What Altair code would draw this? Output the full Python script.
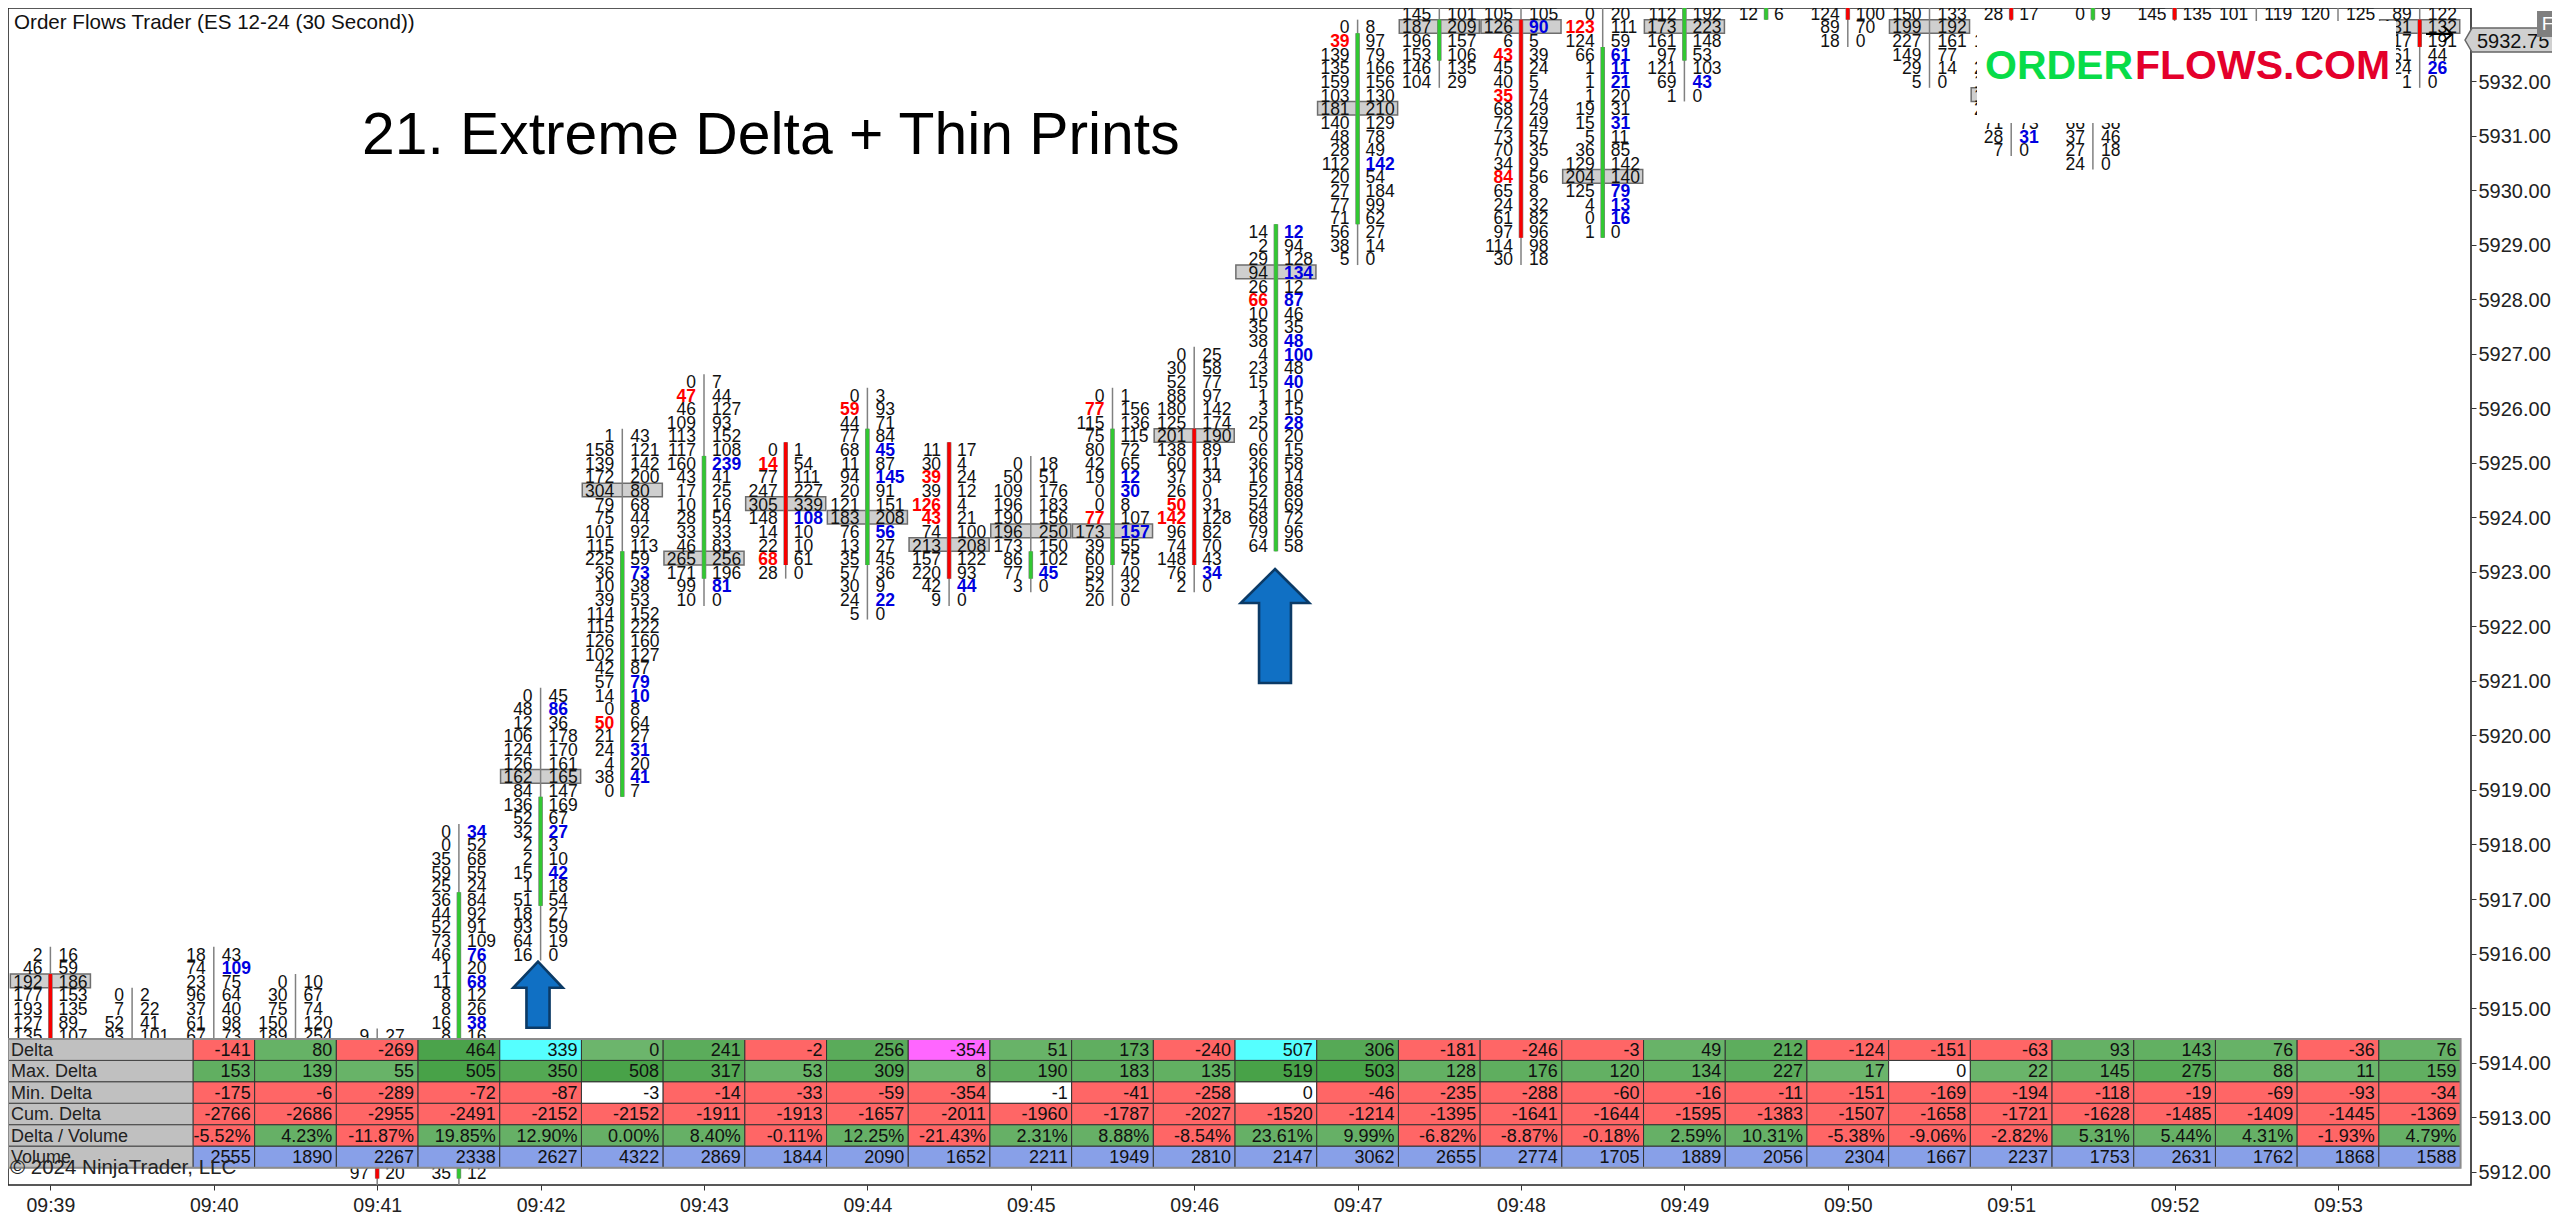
import altair as alt
import pandas as pd

# ---------- chart values ----------
TIME_LABELS = ["09:39","09:40","09:41","09:42","09:43","09:44","09:45","09:46","09:47","09:48","09:49","09:50","09:51","09:52","09:53"]
PRICE_TICKS = list(range(5912, 5933))

BAR_TOP = [5916.0,5915.25,5916.0,5915.5,5914.5,5918.25,5920.75,5925.5,5926.5,5925.25,5926.25,5925.25,5925.0,5926.25,5927.0,5929.25,5933.0,
           5933.25,5933.25,5933.25,5933.25,5933.25,5933.25,5933.25,5933.25,5933.25,5933.25,5933.25,5933.25,5933.25]

B = [""]
BIDS = [
 ["2","46","192","177","193","127","135"],
 ["0","7","52","93"],
 ["18","74","23","96","37","61","67"],
 ["0","30","75","150","189"],
 ["9"]+B*9+["97",""],
 ["0","0","35","59","25","36","44","52","73","46","1","11","8","8","16","8"]+B*9+["35",""],
 ["0","48","12","106","124","126","162","84","136","52","32","2","2","15","1","51","18","93","64","16"],
 ["1","158","139","172","304","79","75","101","115","225","36","10","39","114","115","126","102","42","57","14","0","50*","21","24","4","38","0"],
 ["0","47*","46","109","113","117","160","43","17","10","28","33","46","265","171","99","10"],
 ["0","14*","77","247","305","148","14","22","68*","28"],
 ["0","59*","44","77","68","11","94","20","121","183","76","13","35","57","30","24","5"],
 ["11","30","39*","39","126*","43*","74","213","157","220","42","9"],
 ["0","50","109","196","190","196","173","86","77","3"],
 ["0","77*","115","75","80","42","19","0","0","77*","173","39","60","59","52","20"],
 ["0","30","52","88","180","125","201","138","60","37","26","50*","142*","96","74","148","76","2"],
 ["14","2","29","94","26","66*","10","35","38","4","23","15","1","3","25","0","66","36","16","52","54","68","79","64"],
 ["0","39*","139","135","159","103","181","140","48","28","112","20","27","77","71","56","38","5"],
 ["145","187","196","153","146","104"],
 ["105","126","6","43*","45","40","35*","68","72","73","70","34","84*","65","24","61","97","114","30"],
 ["0","123*","124","66","1","1","1","19","15","5","36","129","204","125","4","0","1"],
 ["112","173","161","97","121","69","1"],
 ["12"],
 ["124","89","18"],
 ["150","199","227","149","29","5"],
 ["28","","150","","210","120","150","210","71","28","7"],
 ["0"]+B*7+["66","37","27","24"],
 ["145",""],
 ["101",""],
 ["120",""],
 ["89","131","117","161","124","1"],
]
ASKS = [
 ["16","59","186","153","135","89","107"],
 ["2","22","41","101"],
 ["43","109*","75","64","40","98","73"],
 ["10","67","74","120","254"],
 ["27"]+B*9+["20",""],
 ["34*","52","68","55","24","84","92","91","109","76*","20","68*","12","26","38*","16"]+B*9+["12",""],
 ["45","86*","36","178","170","161","165","147","169","67","27*","3","10","42*","18","54","27","59","19","0"],
 ["43","121","142","200","80","68","44","92","113","59","73*","38","53","152","222","160","127","87","79*","10*","8","64","27","31*","20","41*","7"],
 ["7","44","127","93","152","108","239*","41","25","16","54","33","83","256","196","81*","0"],
 ["1","54","111","227","339","108*","10","10","61","0"],
 ["3","93","71","84","45*","87","145*","91","151","208","56*","27","45","36","9","22*","0"],
 ["17","4","24","12","4","21","100","208","122","93","44*","0"],
 ["18","51","176","183","156","250","150","102","45*","0"],
 ["1","156","136","115","72","65","12*","30*","8","107","157*","55","75","40","32","0"],
 ["25","58","77","97","142","174","190","89","11","34","0","31","128","82","70","43","34*","0"],
 ["12*","94","128","134*","12","87*","46","35","48*","100*","48","40*","10","15","28*","20","15","58","14","88","69","72","96","58"],
 ["8","97","79","166","156","130","210","129","78","49","142*","54","184","99","62","27","14","0"],
 ["101","209","157","106","135","29"],
 ["105","90*","5","39","24","5","74","29","49","57","35","9","56","8","32","82","96","98","18"],
 ["20","111","59","61*","11*","21*","20","31","31*","11","85","142","140","79*","13*","16*","0"],
 ["192","223","148","53","103","43*","0"],
 ["6"],
 ["100","70","0"],
 ["133","192","161","77","14","0"],
 ["17"]+B*7+["73","31*","0"],
 ["9"]+B*7+["38","46","18","0"],
 ["135",""],
 ["119",""],
 ["125",""],
 ["122","132","191","44","26*","0"],
]
POC_ROW = [2,None,None,None,None,None,6,4,13,4,9,7,5,10,6,3,6,1,1,12,1,None,None,1,6,None,None,None,None,1]
BODY_FIRST = [2,None,None,None,9,5,8,9,6,0,3,0,7,3,6,0,1,1,1,3,0,0,0,None,0,0,0,None,None,1]
BODY_LAST  = [6,None,None,None,10,25,15,26,14,8,12,9,8,12,15,23,14,3,16,16,3,0,0,None,0,0,0,None,None,2]
BODY_UP    = [0,None,None,None,0,1,1,1,1,0,1,0,1,1,0,1,1,1,0,1,1,1,0,None,0,1,0,None,None,0]

ROW_NAMES = ["Delta","Max. Delta","Min. Delta","Cum. Delta","Delta / Volume","Volume"]
DELTA = [-141,80,-269,464,339,0,241,-2,256,-354,51,173,-240,507,306,-181,-246,-3,49,212,-124,-151,-63,93,143,76,-36,76]
MAX_DELTA = [153,139,55,505,350,508,317,53,309,8,190,183,135,519,503,128,176,120,134,227,17,0,22,145,275,88,11,159]
MIN_DELTA = [-175,-6,-289,-72,-87,-3,-14,-33,-59,-354,-1,-41,-258,0,-46,-235,-288,-60,-16,-11,-151,-169,-194,-118,-19,-69,-93,-34]
CUM_DELTA = [-2766,-2686,-2955,-2491,-2152,-2152,-1911,-1913,-1657,-2011,-1960,-1787,-2027,-1520,-1214,-1395,-1641,-1644,-1595,-1383,-1507,-1658,-1721,-1628,-1485,-1409,-1445,-1369]
DELTA_VOL = [-5.52,4.23,-11.87,19.85,12.90,0.00,8.40,-0.11,12.25,-21.43,2.31,8.88,-8.54,23.61,9.99,-6.82,-8.87,-0.18,2.59,10.31,-5.38,-9.06,-2.82,5.31,5.44,4.31,-1.93,4.79]
VOLUME = [2555,1890,2267,2338,2627,4322,2869,1844,2090,1652,2211,1949,2810,2147,3062,2655,2774,1705,1889,2056,2304,1667,2237,1753,2631,1762,1868,1588]
DELTA_HIGHLIGHT = {4:"#55ffff",9:"#ff66ff",13:"#55ffff"}

# ---------- page geometry of the plot ----------
FONT = "Liberation Sans"
PLOT_L, PLOT_T, PLOT_R, PLOT_B = 8, 8, 2471, 1185
BAR0, BAR_W = 50.4, 81.7
PT_Y, PT_PX = 81.0, 54.535          # page y of 5932, px per point
TICK = 0.25
def ix(px): return (px-BAR0)/BAR_W
def pr(py): return 5932-(py-PT_Y)/PT_PX

xs = alt.Scale(domain=[ix(PLOT_L), ix(PLOT_R)], nice=False, zero=False)
ys = alt.Scale(domain=[pr(PLOT_B), pr(PLOT_T)], nice=False, zero=False)
AX = alt.Axis(values=list(range(0,29,2)),
        labelExpr=str(TIME_LABELS)+"[datum.value/2]",labelFont=FONT,labelFontSize=19.5,labelColor="#222222",
        tickColor="#333333",tickSize=5,domain=False,grid=False,labelPadding=6,labelFlush=False,labelOverlap=False,title=None)
AY = alt.Axis(orient="right",values=PRICE_TICKS,format=".2f",labelFont=FONT,
        labelFontSize=20,labelColor="#222222",tickColor="#333333",tickSize=5,domain=False,grid=False,labelPadding=2,
        labelOffset=1,labelOverlap=False,labelFlush=False,title=None)
def X(f="x"): return alt.X(f, type="quantitative", scale=xs, axis=AX)
def Y(f="y"): return alt.Y(f, type="quantitative", scale=ys, axis=AY)

# ---------- footprint tables ----------
texts, pocs, wicks, bodies = [], [], [], []
for i,(top,bids,asks) in enumerate(zip(BAR_TOP,BIDS,ASKS)):
    n = len(bids)
    wicks.append(dict(x=i,y=top+TICK/2,y2=top-(n-1)*TICK-TICK/2))
    for r,(b,a) in enumerate(zip(bids,asks)):
        p = top-r*TICK
        if b: texts.append(dict(x=i,y=p,t=b.rstrip("*"),side="bid",bold=b.endswith("*")))
        if a: texts.append(dict(x=i,y=p,t=a.rstrip("*"),side="ask",bold=a.endswith("*")))
    if POC_ROW[i] is not None:
        p = top-POC_ROW[i]*TICK
        pocs.append(dict(x=i-.49,x2=i+.49,y=p+TICK/2,y2=p-TICK/2))
    if BODY_FIRST[i] is not None:
        bodies.append(dict(x=i,y=top-BODY_FIRST[i]*TICK+TICK/2,y2=top-BODY_LAST[i]*TICK-TICK/2,
                           c="#32c832" if BODY_UP[i] else "#f80000"))
tx = pd.DataFrame(texts)

def num_layer(side,bold,color):
    d = tx[(tx.side==side)&(tx.bold==bold)]
    return alt.Chart(d).mark_text(font=FONT,fontSize=17.5,fontWeight="bold" if bold else "normal",color=color,clip=True,
        align="right" if side=="bid" else "left",baseline="middle",dx=-8 if side=="bid" else 8,dy=2
    ).encode(x=X(),y=Y(),text="t:N")

poc_l = alt.Chart(pd.DataFrame(pocs)).mark_rect(fill="#cfcfcf",stroke="#6e6e6e",strokeWidth=1.5,clip=True).encode(x=X(),x2="x2",y=Y(),y2="y2")
wick_l = alt.Chart(pd.DataFrame(wicks)).mark_rule(color="#808080",strokeWidth=1.5,clip=True).encode(x=X(),y=Y(),y2="y2")
bd = pd.DataFrame(bodies)
body_edge = alt.Chart(bd).mark_rule(color="#808080",strokeWidth=4.6,clip=True).encode(x=X(),y=Y(),y2="y2")
body_l = alt.Chart(bd).mark_rule(strokeWidth=3.4,clip=True).encode(x=X(),y=Y(),y2="y2",color=alt.Color("c:N",scale=None,legend=None))

# ---------- arrows ----------
def up_arrow(xpx,ypy,h,wing,half,shaft):
    path = f"M0,-1L{half},{wing}L{shaft},{wing}L{shaft},1L{-shaft},1L{-shaft},{wing}L{-half},{wing}Z"
    return alt.Chart(pd.DataFrame(dict(x=[ix(xpx)],y=[pr(ypy)]))).mark_point(shape=path,size=h*h,filled=True,
        fill="#1070c4",stroke="#0b3a66",strokeWidth=2.6,opacity=1,fillOpacity=1).encode(x=X(),y=Y())
arrow_small = up_arrow(538,994.7,66,-0.21,0.75,0.35)
arrow_big = up_arrow(1275,626,114,-0.404,0.6,0.28)

# ---------- table ----------
TAB_T, ROW_H = 1039, 21.45
cells, labels = [], []
def green(v):
    t = min(1,abs(v)/500)
    return "#%02x%02x%02x"%(round(108-36*t),round(181-19*t),round(108-36*t))
RED, BLUE = "#ff6666", "#88a0e8"
for rname,row in zip(ROW_NAMES,range(6)):
    arr = [DELTA,MAX_DELTA,MIN_DELTA,CUM_DELTA,DELTA_VOL,VOLUME][row]
    t0,t1 = pr(TAB_T+row*ROW_H),pr(TAB_T+(row+1)*ROW_H)
    ymid = (t0+t1)/2
    labels.append(dict(x=ix(PLOT_L),x2=1.745,y=t0,y2=t1,ym=ymid,t=rname))
    for k,v in enumerate(arr):
        if row==5: c=BLUE
        elif row==4: c = RED if v<0 else "#66b066"
        elif row==3: c = RED if v<0 else green(v)
        elif row==0 and k in DELTA_HIGHLIGHT: c=DELTA_HIGHLIGHT[k]
        elif row in (1,2) and v>-4 and v<=0: c="#ffffff"
        else: c = RED if v<0 else green(v)
        txt = f"{v:.2f}%" if row==4 else str(v)
        cells.append(dict(x=max(k+1.5,1.745),x2=k+2.5,y=t0,y2=t1,ym=ymid,c=c,t=txt))
cell_df = pd.DataFrame(cells); lab_df = pd.DataFrame(labels)
lab_rect = alt.Chart(lab_df).mark_rect(fill="#c0c0c0",stroke="#444444",strokeWidth=1).encode(x=X(),x2="x2",y=Y(),y2="y2")
cell_rect = alt.Chart(cell_df).mark_rect(stroke="#333333",strokeWidth=1).encode(x=X(),x2="x2",y=Y(),y2="y2",color=alt.Color("c:N",scale=None,legend=None))
cell_text = alt.Chart(cell_df).mark_text(font=FONT,fontSize=18,color="#111111",align="right",baseline="middle",dx=-4,dy=1).encode(x=X("x2"),y=Y("ym"),text="t:N")
lab_text = alt.Chart(lab_df).mark_text(font=FONT,fontSize=18,color="#222222",align="left",baseline="middle",dx=3,dy=1).encode(x=X(),y=Y("ym"),text="t:N")
frame_df = pd.DataFrame(dict(x=[ix(PLOT_L)],x2=[29.5],y=[pr(TAB_T)],y2=[pr(TAB_T+6*ROW_H)]))
tab_frame = alt.Chart(frame_df).mark_rect(fill="transparent",stroke="#8c8c8c",strokeWidth=2).encode(x=X(),x2="x2",y=Y(),y2="y2")

# ---------- annotations ----------
def label(txt,xpx,ypy,size,color="#000000",weight="normal",font=FONT,align="left"):
    return alt.Chart(pd.DataFrame(dict(x=[ix(xpx)],y=[pr(ypy)],t=[txt]))).mark_text(font=font,fontSize=size,color=color,
        fontWeight=weight,align=align,baseline="middle").encode(x=X(),y=Y(),text="t:N")
title_main = label("21. Extreme Delta + Thin Prints",362,136,58.8)
title_top = label("Order Flows Trader (ES 12-24 (30 Second))",14,23,20.6,"#111111")
copyright_t = label("\u00a9 2024 NinjaTrader, LLC",10,1168,20.5,"#222222")

logo_box = alt.Chart(pd.DataFrame(dict(x=[ix(1977)],x2=[ix(2396)],y=[pr(21)],y2=[pr(123)]))).mark_rect(fill="#ffffff").encode(x=X(),x2="x2",y=Y(),y2="y2")
logo_a = label("ORDER",1985,67,41,"#08dc48","bold")
logo_b = label("FLOWS.COM",2135,67,41,"#e4002b","bold")

price_path = "M-1,0L-0.85,-0.258L1,-0.258L1,0.258L-0.85,0.258Z"
price_box = alt.Chart(pd.DataFrame(dict(x=[ix(2511.5)],y=[5932.75]))).mark_point(shape=price_path,size=93*93,filled=True,fill="#d0d0d0",
    stroke="#666666",strokeWidth=1.5,opacity=1,clip=False).encode(x=X(),y=Y())
price_txt = label("5932.75",2477,42,20,"#111111")
f_box = alt.Chart(pd.DataFrame(dict(x=[ix(2547.5)],y=[pr(24)]))).mark_point(shape="M-0.79,-1L0.79,-1L0.79,1L-0.79,1Z",size=24*24,filled=True,
    fill="#7f7f7f",stroke="#7f7f7f",opacity=1).encode(x=X(),y=Y())
f_txt = label("F",2547.5,24,19,"#ffffff",align="center")
cur_arrow = alt.Chart(pd.DataFrame(dict(x=[ix(2439)],y=[pr(34)]))).mark_point(shape="M-1,0L1,0M0.35,-0.6L1,0L0.35,0.6",size=26*26,filled=False,
    stroke="#000000",strokeWidth=2,opacity=1).encode(x=X(),y=Y())

chart = alt.layer(
    poc_l, wick_l, body_edge, body_l,
    num_layer("bid",False,"#111111"), num_layer("ask",False,"#111111"),
    num_layer("bid",True,"#ff0000"), num_layer("ask",True,"#0000e0"),
    arrow_small, arrow_big,
    cell_rect, lab_rect, tab_frame, cell_text, lab_text, copyright_t,
    title_main, title_top, logo_box, logo_a, logo_b, cur_arrow, price_box, price_txt, f_box, f_txt,
).properties(width=PLOT_R-PLOT_L,height=PLOT_B-PLOT_T,
    padding={"left":0,"top":0,"right":81,"bottom":31},
    autosize=alt.AutoSizeParams(type="none"),background="#ffffff"
).configure_view(stroke="#222222",strokeWidth=1.6)

chart.save("out.html", embed_options={"renderer": "svg", "actions": False})
